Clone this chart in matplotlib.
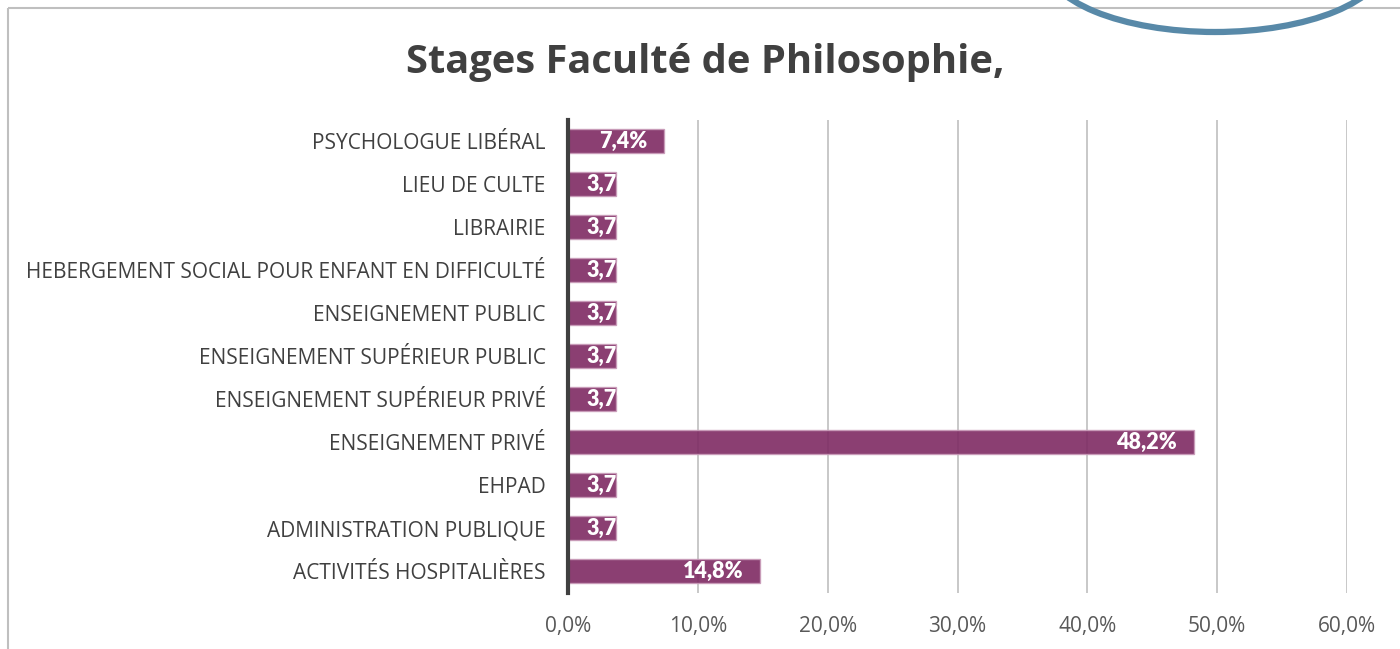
import matplotlib.pyplot as plt
from matplotlib.patches import Ellipse, Rectangle
from matplotlib.ticker import FuncFormatter

plt.rcParams['font.family'] = ['Open Sans', 'DejaVu Sans']

# catégories du bas vers le haut
categories = ['ACTIVITÉS HOSPITALIÈRES', 'ADMINISTRATION PUBLIQUE', 'EHPAD',
              'ENSEIGNEMENT PRIVÉ', 'ENSEIGNEMENT SUPÉRIEUR PRIVÉ',
              'ENSEIGNEMENT SUPÉRIEUR PUBLIC', 'ENSEIGNEMENT PUBLIC',
              'HEBERGEMENT SOCIAL POUR ENFANT EN DIFFICULTÉ', 'LIBRAIRIE',
              'LIEU DE CULTE', 'PSYCHOLOGUE LIBÉRAL']
valeurs = [14.8, 3.7, 3.7, 48.2, 3.7, 3.7, 3.7, 3.7, 3.7, 3.7, 7.4]
x_ticks = [0, 10, 20, 30, 40, 50, 60]

fig = plt.figure(figsize=(14, 6.49), dpi=100)

# fond : cadre du graphique et arc bleu en haut à droite (coordonnées pixels)
bg = fig.add_axes([0, 0, 1, 1], zorder=0)
bg.set_xlim(0, 1400)
bg.set_ylim(649, 0)
bg.axis('off')
bg.add_patch(Rectangle((8, 8), 1500, 700, fill=False, edgecolor='#BFBFBF', linewidth=1.5))
bg.add_patch(Ellipse((1215, -38), 340, 140, fill=False, edgecolor='#5889A8', linewidth=4.5))

ax = fig.add_axes([568 / 1400, 1 - 592.5 / 649, 779 / 1400, 473 / 649], zorder=1)
ax.patch.set_alpha(0)

y = range(len(categories))
bars = ax.barh(y, valeurs, height=0.56, color='#7E2A63', alpha=0.9,
               edgecolor='#C99BB9', linewidth=1, zorder=2)

ax.set_xlim(0, 60)
ax.set_ylim(-0.5, len(categories) - 0.5)
ax.set_xticks(x_ticks)
ax.xaxis.set_major_formatter(FuncFormatter(lambda v, p: f'{v:.1f}%'.replace('.', ',')))
ax.set_yticks(list(y))
ax.set_yticklabels(categories)
ax.tick_params(axis='both', length=0, labelsize=15, labelcolor='#404040')
ax.tick_params(axis='x', pad=17, labelcolor='#595959')
ax.tick_params(axis='y', pad=16)

ax.grid(axis='x', color='#BFBFBF', linewidth=1.2, zorder=1)
for s in ['top', 'right', 'bottom']:
    ax.spines[s].set_visible(False)
ax.spines['left'].set_color('#404040')
ax.spines['left'].set_linewidth(3)
ax.spines['left'].set_zorder(3)

# étiquettes de valeurs dans les barres
for bar, v in zip(bars, valeurs):
    label = f'{v:.1f}%'.replace('.', ',')
    yc = bar.get_y() + bar.get_height() / 2
    if v < 6:
        t = ax.text(1.4, yc, label, ha='left', va='center', color='white',
                    fontsize=15.5, fontweight='heavy', family=['Lato', 'DejaVu Sans'],
                    zorder=4)
        t.set_clip_path(bar)
    else:
        ax.text(v - 1.3, yc, label, ha='right', va='center', color='white',
                fontsize=15.5, fontweight='heavy', family=['Lato', 'DejaVu Sans'],
                zorder=4)

fig.text(0.504, 1 - 62 / 649, 'Stages Faculté de Philosophie,', ha='center', va='center',
         fontsize=28.7, fontweight='bold', color='#404040')

fig.savefig('out.png', dpi=100)
